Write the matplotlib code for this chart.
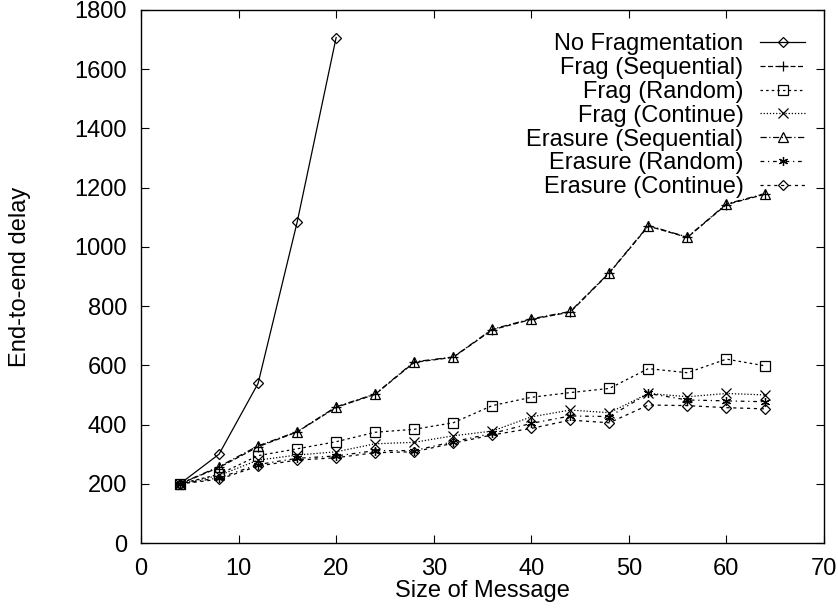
import matplotlib
matplotlib.use("Agg")
import matplotlib.pyplot as plt

plt.rcParams['font.family'] = ['Liberation Sans', 'DejaVu Sans']

sizes = [4, 8, 12, 16, 20, 24, 28, 32, 36, 40, 44, 48, 52, 56, 60, 64]
sizes_nofrag = [4, 8, 12, 16, 20]

no_frag = [200, 300, 539, 1083, 1707]
frag_seq = [200, 255, 325, 375, 458, 502, 610, 627, 720, 755, 780, 912, 1070, 1032, 1143, 1178]
frag_rand = [200, 232, 295, 318, 342, 374, 384, 406, 464, 492, 508, 522, 589, 575, 621, 598]
frag_cont = [200, 228, 280, 297, 308, 335, 340, 362, 378, 426, 449, 440, 505, 494, 505, 500]
eras_seq = [200, 258, 328, 376, 460, 503, 612, 628, 722, 757, 782, 913, 1072, 1033, 1145, 1180]
eras_rand = [200, 220, 265, 286, 294, 312, 312, 342, 370, 404, 429, 427, 505, 483, 480, 477]
eras_cont = [200, 215, 260, 280, 288, 305, 308, 337, 365, 387, 415, 406, 466, 464, 457, 453]

xticks = [0, 10, 20, 30, 40, 50, 60, 70]
yticks = [0, 200, 400, 600, 800, 1000, 1200, 1400, 1600, 1800]

W, H = 838, 609
fig = plt.figure(figsize=(W / 100, H / 100), dpi=100)
ax_l, ax_r, ax_t, ax_b = 141, 824, 10, 543
ax = fig.add_axes([ax_l / W, 1 - ax_b / H, (ax_r - ax_l) / W, (ax_b - ax_t) / H])

FS = 17
common = dict(color='black', linewidth=0.9, markersize=6.5, markerfacecolor='none',
              markeredgewidth=0.9)
dia = {**common, 'markersize': 5}
ax.plot(sizes_nofrag, no_frag, linestyle='-', marker='D', label='No Fragmentation', **dia)
ax.plot(sizes, frag_seq, linestyle=(0, (4, 2)), marker='+', label='Frag (Sequential)', **common)
ax.plot(sizes, frag_rand, linestyle=(0, (2, 2.5)), marker='s', label='Frag (Random)', **common)
ax.plot(sizes, frag_cont, linestyle=(0, (1, 1.5)), marker='x', label='Frag (Continue)', **common)
ax.plot(sizes, eras_seq, linestyle=(0, (5, 2, 1, 2)), marker='^', label='Erasure (Sequential)', **common)
ax.plot(sizes, eras_rand, linestyle=(0, (3, 3, 1, 3)), marker=(6, 2, 0), label='Erasure (Random)', **common)
ax.plot(sizes, eras_cont, linestyle=(0, (2.5, 3)), marker='D', label='Erasure (Continue)', **dia)

ax.set_xlim(0, 70)
ax.set_ylim(0, 1800)
ax.set_xticks(xticks)
ax.set_yticks(yticks)
ax.tick_params(direction='in', length=6, width=0.8, top=True, right=True, labelsize=FS)
ax.tick_params(axis='x', pad=11)
ax.tick_params(axis='y', pad=10)
for s in ax.spines.values():
    s.set_linewidth(1.0)

fig.text(482 / W, 1 - 591 / H, 'Size of Message', fontsize=FS, ha='center', va='center')
fig.text(20 / W, 1 - 277 / H, 'End-to-end delay', fontsize=FS, ha='center', va='center',
         rotation=90)

bp = 0.4 * FS * 100 / 72
leg = ax.legend(loc='upper right', frameon=False, markerfirst=False, fontsize=FS,
                handlelength=1.9, handletextpad=0.7, labelspacing=0.08,
                borderaxespad=0, borderpad=0.4,
                bbox_to_anchor=((805 + bp) / W, 1 - (33 - bp) / H),
                bbox_transform=fig.transFigure)
try:
    for col in leg._legend_box.get_children()[1].get_children():
        col.align = 'right'
except Exception:
    pass

fig.savefig('out.png', dpi=100)
